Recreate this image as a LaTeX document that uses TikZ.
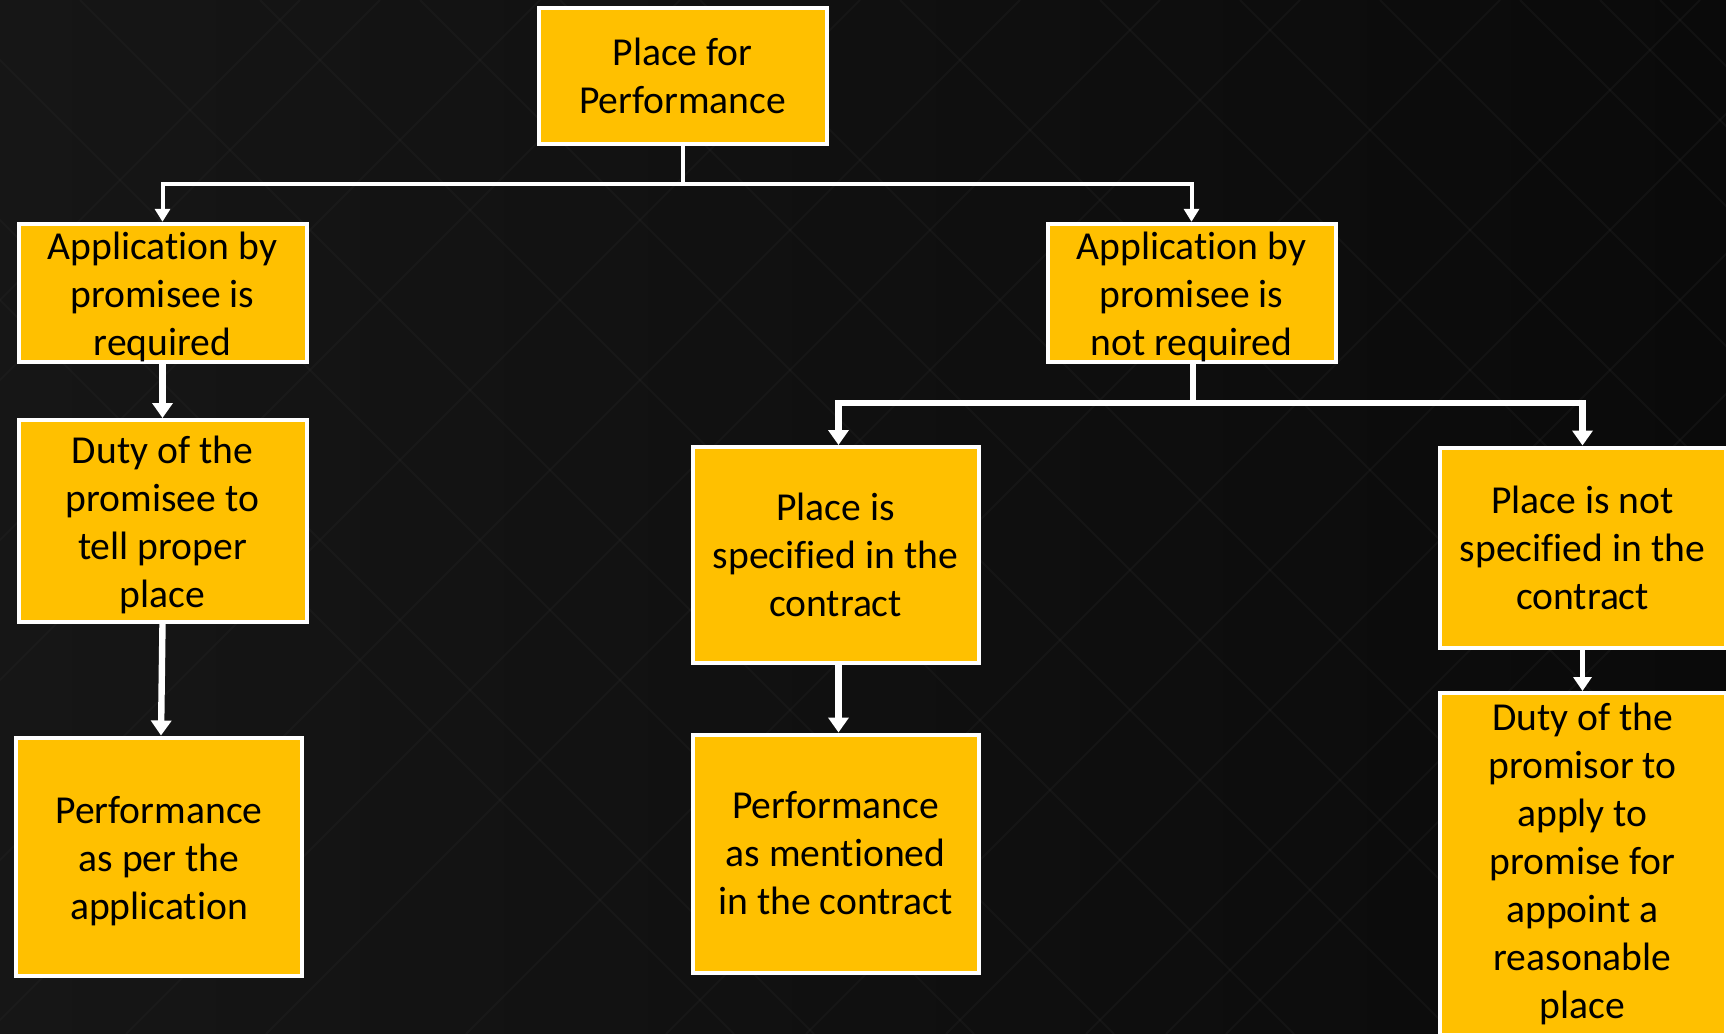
\documentclass[tikz,border=0pt]{standalone}
\usepackage{fontspec}
\setmainfont[Ligatures=NoCommon]{Carlito}
\usetikzlibrary{arrows.meta}
\definecolor{boxfill}{HTML}{FFC000}
\definecolor{bgleft}{HTML}{161616}
\definecolor{bgright}{HTML}{0A0A0A}
\definecolor{hatch}{HTML}{2A2A2A}
% taller first line, sets the text block a little lower in its box
\newcommand\firstgap{\rule{0pt}{18pt}}
\begin{document}
\begin{tikzpicture}[x=0.5pt,y=-0.5pt,
  box/.style={draw=white, line width=2pt, fill=boxfill, rectangle,
    inner sep=0pt, align=center, text=black,
    font=\fontsize{19.8pt}{24pt}\selectfont},
  thinlink/.style={draw=white, line width=2pt,
    -{Triangle[length=6.5pt,width=7.5pt]}},
  thicklink/.style={draw=white, line width=3.2pt,
    -{Triangle[length=7.5pt,width=10pt]}},
  midlink/.style={draw=white, line width=2.4pt,
    -{Triangle[length=7pt,width=9pt]}},
  plain/.style={draw=white, line width=2pt},
  plainthick/.style={draw=white, line width=3.2pt},
  hatchline/.style={draw=hatch, line width=1pt, opacity=0.25}
]
% canvas and background
\useasboundingbox (0,0) rectangle (1726,1034);
\shade[left color=bgleft, right color=bgright] (0,0) rectangle (1726,1034);
\begin{scope}
  \clip (0,0) rectangle (1726,1034);
  \foreach \s in {-300,-220,-60,80,260,420,560,700,900,1100,1240,1380,1520,1600,1660} {
    \path[hatchline] (\s,0) -- ++(1034,1034);
    \path[hatchline] (\s+600,0) -- ++(-1034,1034);
  }
\end{scope}

% boxes
\node[box, minimum width=144pt, minimum height=68pt] (top) at (682.5,76)
  {Place for\\Performance};
\node[box, minimum width=144pt, minimum height=68pt] (a1) at (162.5,293)
  {\firstgap Application by\\promisee is\\required};
\node[box, minimum width=144pt, minimum height=68pt] (a2) at (1191.5,293)
  {\firstgap Application by\\promisee is\\not required};
\node[box, minimum width=144pt, minimum height=101pt] (d1) at (162.5,521)
  {\firstgap Duty of the\\promisee to\\tell proper\\place};
\node[box, minimum width=143pt, minimum height=119pt] (f1) at (159,856.5)
  {\firstgap Performance\\as per the\\application};
\node[box, minimum width=143pt, minimum height=108pt] (p1) at (835.5,555)
  {Place is\\specified in the\\contract};
\node[box, minimum width=143pt, minimum height=119pt] (f2) at (835.5,853.5)
  {Performance\\as mentioned\\in the contract};
\node[box, minimum width=143pt, minimum height=100pt] (p2) at (1582.5,547.5)
  {Place is not\\specified in the\\contract};
\node[box, minimum width=143pt, minimum height=171pt] (d2) at (1582.5,864)
  {Duty of the\\promisor to\\apply to\\promise for\\appoint a\\reasonable\\place};

% junction points
\coordinate (bus1) at (682.5,184);
\coordinate (bus2) at (1193,403);

% connectors
\draw[plain] (top.south) -- (bus1);
\draw[thinlink] (bus1) -| (a1.north);
\draw[thinlink] (bus1) -| (a2.north);
\draw[plainthick] (a2.south -| bus2) -- (bus2);
\draw[thicklink] (bus2) -| ([xshift=1.5pt]p1.north);
\draw[thicklink] (bus2) -| (p2.north);
\draw[thicklink] (a1.south) -- (d1.north);
\draw[thicklink] (d1.south) -- ([xshift=1pt]f1.north);
\draw[thicklink] ([xshift=1.5pt]p1.south) -- ([xshift=1.5pt]f2.north);
\draw[midlink] (p2.south) -- (d2.north);
\end{tikzpicture}
\end{document}
